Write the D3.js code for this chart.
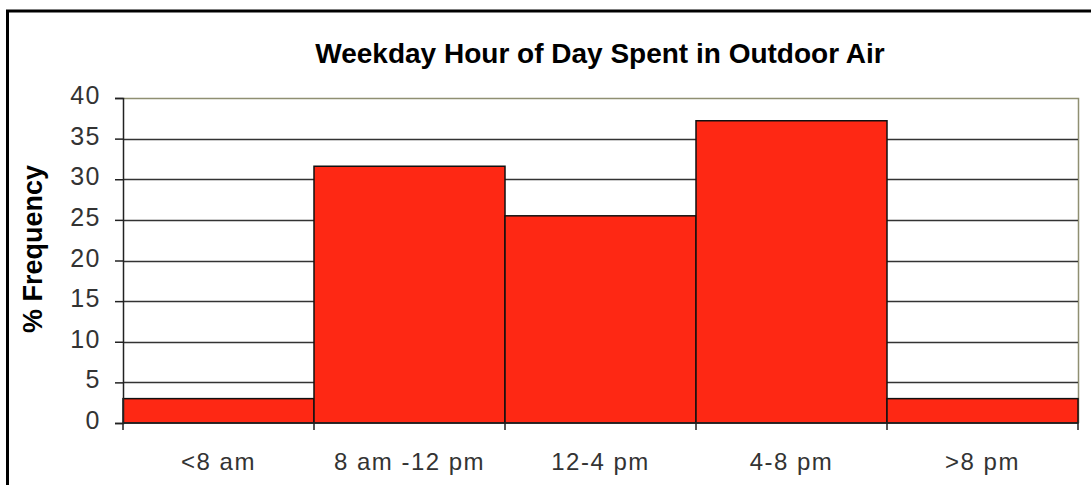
<!DOCTYPE html>
<html>
<head>
<meta charset="utf-8">
<script src="https://cdn.jsdelivr.net/npm/d3@7"></script>
<style>
  body { margin: 0; background: #fff; }
  svg { display: block; }
</style>
</head>
<body>
<svg id="chart" width="1091" height="485"></svg>
<script>
'use strict';

// data
var categories = ['<8 am', '8 am -12 pm', '12-4 pm', '4-8 pm', '>8 pm'];
var frequency = [3, 31.6, 25.5, 37.2, 3];
var yTicks = [0, 5, 10, 15, 20, 25, 30, 35, 40];

var svg = d3.select('#chart');

// outer frame
svg.append('rect')
	.attr('x', 7.5).attr('y', 11)
	.attr('width', 1200).attr('height', 600)
	.attr('fill', '#fff')
	.attr('stroke', '#000')
	.attr('stroke-width', 3);

var plotLeft = 123, plotRight = 1078, plotTop = 98, plotBottom = 423;
var font = 'Liberation Sans, Arial, sans-serif';

var x = d3.scaleBand().domain(categories).range([plotLeft, plotRight]).padding(0);
var y = d3.scaleLinear().domain([0, 40]).range([plotBottom, plotTop]);

// title
svg.append('text')
	.attr('x', 600).attr('y', 63)
	.attr('text-anchor', 'middle')
	.attr('font-family', font)
	.attr('font-weight', 'bold')
	.attr('font-size', 28)
	.text('Weekday Hour of Day Spent in Outdoor Air');

// y label
svg.append('text')
	.attr('transform', 'translate(42,249) rotate(-90)')
	.attr('text-anchor', 'middle')
	.attr('font-family', font)
	.attr('font-weight', 'bold')
	.attr('font-size', 27)
	.text('% Frequency');

// plot area border (top/right)
svg.append('path')
	.attr('d', 'M' + plotLeft + ',' + (plotTop + 0.5) + 'H' + (plotRight + 0.5) + 'V' + plotBottom)
	.attr('fill', 'none')
	.attr('stroke', '#8f8f72')
	.attr('stroke-width', 1.5);

// gridlines
svg.append('g').selectAll('line')
	.data(yTicks.filter(function(d){ return d > 0 && d < 40; }))
	.join('line')
	.attr('x1', plotLeft).attr('x2', plotRight)
	.attr('y1', function(d){ return Math.round(y(d)) + 0.5; })
	.attr('y2', function(d){ return Math.round(y(d)) + 0.5; })
	.attr('stroke', '#333')
	.attr('stroke-width', 1.5);

// bars
svg.append('g').selectAll('rect')
	.data(frequency)
	.join('rect')
	.attr('x', function(d, i){ return x(categories[i]); })
	.attr('y', function(d){ return y(d); })
	.attr('width', x.bandwidth())
	.attr('height', function(d){ return plotBottom - y(d); })
	.attr('fill', '#fe2814')
	.attr('stroke', '#111')
	.attr('stroke-width', 1.5);

// y axis
var yAxis = svg.append('g')
	.attr('transform', 'translate(' + plotLeft + ',0)')
	.call(d3.axisLeft(y).tickValues(yTicks).tickSize(8).tickPadding(14));
yAxis.selectAll('text')
	.attr('font-family', font)
	.attr('font-size', 25)
	.attr('letter-spacing', 1.5)
	.attr('dy', '0.22em')
	.attr('fill', '#333');
yAxis.selectAll('line, path').attr('stroke', '#222').attr('stroke-width', 1.5);

// x axis: ticks at category boundaries, labels centered
var xAxis = svg.append('g').attr('transform', 'translate(0,' + plotBottom + ')');
xAxis.append('line')
	.attr('x1', plotLeft).attr('x2', plotRight)
	.attr('stroke', '#222').attr('stroke-width', 1.5);
var edges = categories.map(function(c){ return x(c); }).concat([plotRight]);
xAxis.selectAll('.tk')
	.data(edges)
	.join('line')
	.attr('class', 'tk')
	.attr('x1', function(d){ return d; }).attr('x2', function(d){ return d; })
	.attr('y1', 0).attr('y2', 7)
	.attr('stroke', '#222').attr('stroke-width', 1.5);
xAxis.selectAll('text.lbl')
	.data(categories)
	.join('text')
	.attr('class', 'lbl')
	.attr('x', function(d){ return x(d) + x.bandwidth() / 2; })
	.attr('y', 47)
	.attr('text-anchor', 'middle')
	.attr('font-family', font)
	.attr('font-size', 24)
	.attr('letter-spacing', 1.5)
	.attr('fill', '#333')
	.text(function(d){ return d; });
</script>
</body>
</html>
